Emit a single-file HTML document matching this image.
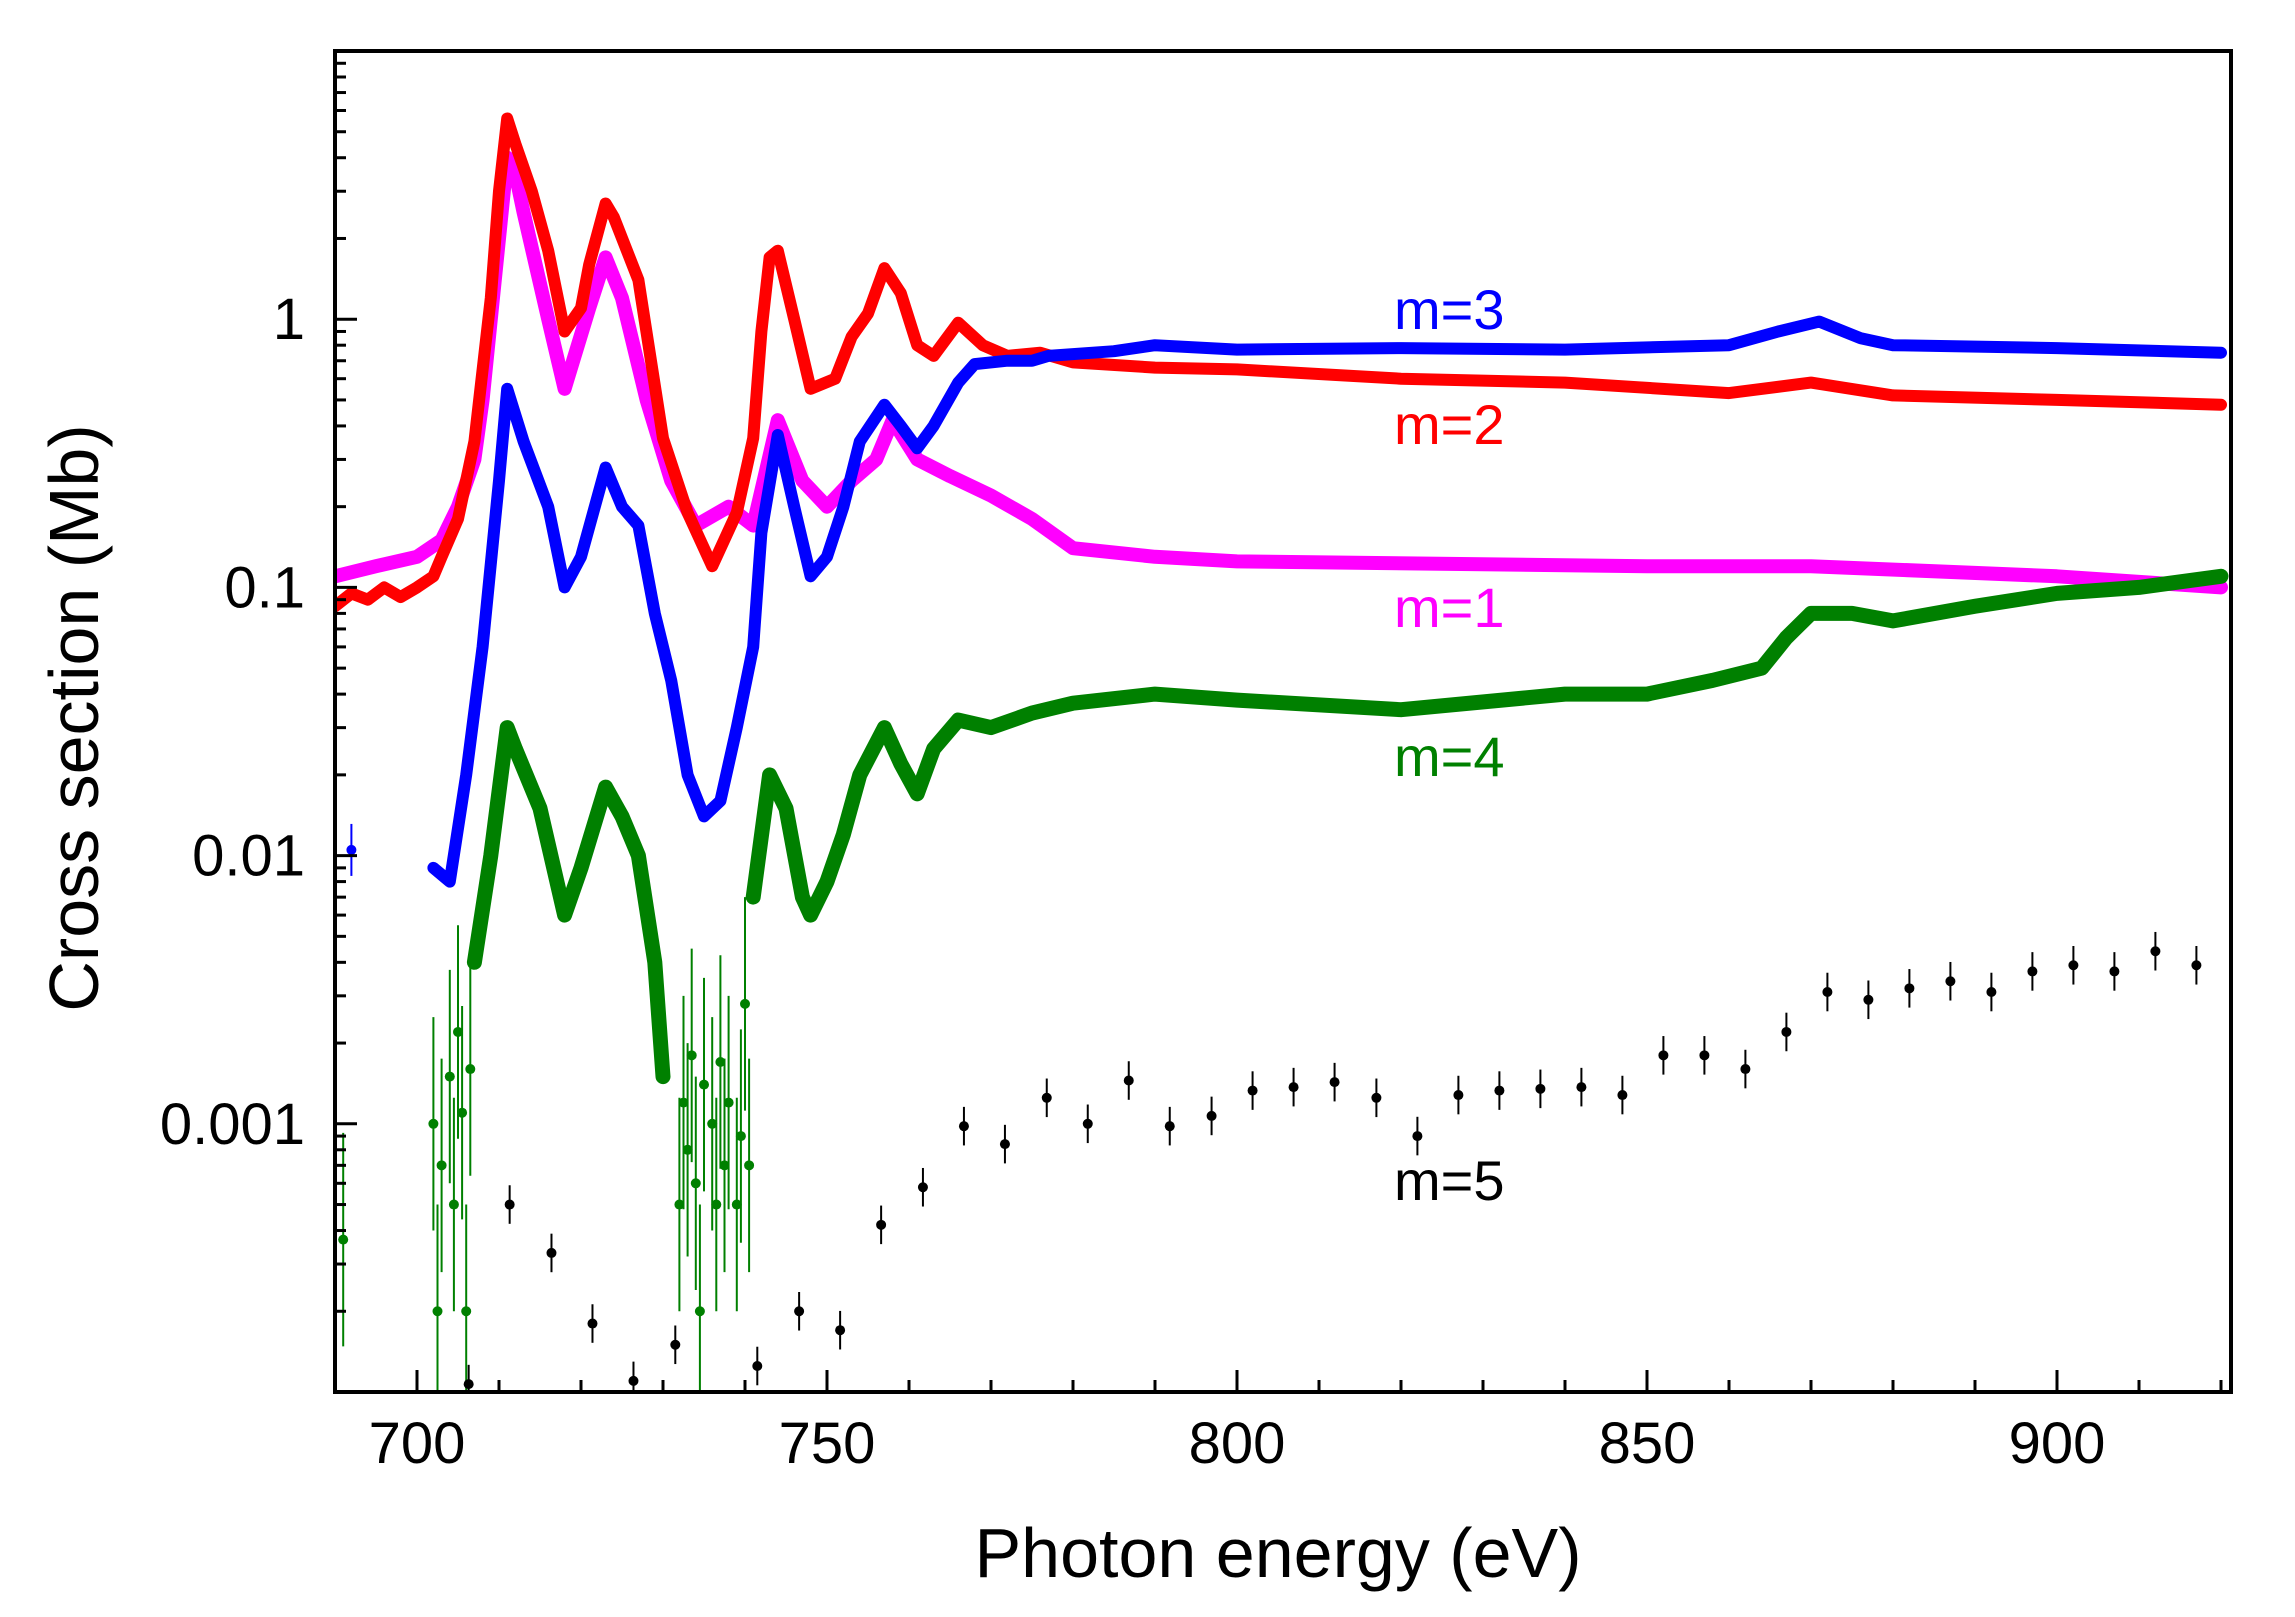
<!DOCTYPE html>
<html><head><meta charset="utf-8"><style>
html,body{margin:0;padding:0;background:#fff;}
svg{display:block;font-family:"Liberation Sans",Arial,sans-serif;}
</style></head><body>
<svg id="chart" width="2295" height="1617" viewBox="0 0 2295 1617" xmlns="http://www.w3.org/2000/svg">
<defs><clipPath id="plotclip"><rect x="335" y="51" width="1896" height="1341"/></clipPath></defs>
<rect x="0" y="0" width="2295" height="1617" fill="#fff"/>
<g id="series" clip-path="url(#plotclip)"></g>
<g id="axes"></g>
<rect x="335" y="51" width="1896" height="1341" fill="none" stroke="#000" stroke-width="4"/>
<text x="1278" y="1577" font-size="70" text-anchor="middle">Photon energy (eV)</text>
<text transform="translate(98,718) rotate(-90)" font-size="70" text-anchor="middle">Cross section (Mb)</text>
<text x="1394" y="329" font-size="56" fill="#0000ff">m=3</text>
<text x="1394" y="444" font-size="56" fill="#ff0000">m=2</text>
<text x="1394" y="627" font-size="56" fill="#ff00ff">m=1</text>
<text x="1394" y="776" font-size="56" fill="#008000">m=4</text>
<text x="1394" y="1200" font-size="56" fill="#000">m=5</text>
</svg>
<script>
const xTicks = [700, 750, 800, 850, 900];
const yTicks = [0.001, 0.01, 0.1, 1];
const yTickLabels = ["0.001", "0.01", "0.1", "1"];

const m2E = [690,692,694,696,698,700,702,703,705,707,709,710,711,712,714,716,718,720,721,723,724,727,730,733,736,739,741,742,743,744,746,748,751,753,755,757,759,761,763,766,769,772,776,780,790,800,820,840,860,870,880,900,920];
const m2V = [0.085,0.095,0.09,0.1,0.092,0.1,0.11,0.13,0.18,0.35,1.2,3,5.6,4.5,3,1.8,0.9,1.1,1.6,2.7,2.4,1.4,0.36,0.19,0.12,0.19,0.36,0.9,1.7,1.8,1,0.55,0.6,0.86,1.05,1.55,1.25,0.8,0.73,0.97,0.8,0.73,0.75,0.69,0.66,0.65,0.6,0.58,0.53,0.58,0.52,0.5,0.48];

const m1E = [690,695,700,703,705,707,708,710,711,712,713,716,718,721,723,725,728,731,734,738,741,744,747,750,753,756,758,761,765,770,775,780,790,800,850,870,900,920];
const m1V = [0.11,0.12,0.13,0.15,0.2,0.3,0.5,2,4,3.5,2.5,1,0.55,1.1,1.7,1.2,0.5,0.25,0.17,0.2,0.17,0.42,0.25,0.2,0.25,0.3,0.42,0.3,0.26,0.22,0.18,0.14,0.13,0.125,0.12,0.12,0.11,0.1];

const m3E = [702,704,706,708,710,711,713,716,718,720,723,725,727,729,731,733,735,737,739,741,742,744,746,748,750,752,754,757,759,761,763,766,768,772,775,777,785,790,800,820,840,860,866,871,876,880,900,920];
const m3V = [0.009,0.008,0.02,0.06,0.25,0.55,0.35,0.2,0.1,0.13,0.28,0.2,0.17,0.08,0.045,0.02,0.014,0.016,0.03,0.06,0.16,0.37,0.2,0.11,0.13,0.2,0.35,0.48,0.4,0.33,0.4,0.58,0.68,0.7,0.7,0.73,0.76,0.8,0.77,0.78,0.77,0.8,0.9,0.98,0.85,0.8,0.78,0.75];

const m4E = [707,709,711,712,715,718,720,723,725,727,729,730,741,743,745,747,748,750,752,754,757,759,761,763,766,770,775,780,790,800,820,840,850,858,864,867,870,875,880,890,900,910,920];
const m4V = [0.004,0.01,0.03,0.025,0.015,0.006,0.009,0.018,0.014,0.01,0.004,0.0015,0.007,0.02,0.015,0.007,0.006,0.008,0.012,0.02,0.03,0.022,0.017,0.025,0.032,0.03,0.034,0.037,0.04,0.038,0.035,0.04,0.04,0.045,0.05,0.065,0.08,0.08,0.075,0.085,0.095,0.1,0.11];
const m4Breaks = [730];

const m4ScatterE = [691,702,702.5,703,704,704.5,705,705.5,706,706.5,732,732.5,733,733.5,734,734.5,735,736,736.5,737,737.5,738,739,739.5,740,740.5];
const m4ScatterV = [0.00037,0.001,0.0002,0.0007,0.0015,0.0005,0.0022,0.0011,0.0002,0.0016,0.0005,0.0012,0.0008,0.0018,0.0006,0.0002,0.0014,0.001,0.0005,0.0017,0.0007,0.0012,0.0005,0.0009,0.0028,0.0007];

const m5E = [706.3,711.3,716.4,721.4,726.4,731.5,741.5,746.6,751.6,756.6,761.7,766.7,771.7,776.8,781.8,786.8,791.8,796.9,801.9,806.9,811.9,817,822,827,832,837,842,847,852,857,862,867,872,877,882,887,892,897,902,907,912,917];
const m5V = [0.000107,0.0005,0.00033,0.00018,0.00011,0.00015,0.000125,0.0002,0.00017,0.00042,0.00058,0.00098,0.00084,0.00125,0.001,0.00145,0.00098,0.00107,0.00133,0.00137,0.00143,0.00125,0.0009,0.00128,0.00133,0.00135,0.00137,0.00128,0.0018,0.0018,0.0016,0.0022,0.0031,0.0029,0.0032,0.0034,0.0031,0.0037,0.0039,0.0037,0.0044,0.0039];

const NS = "http://www.w3.org/2000/svg";
function X(e){ return 335 + (e - 690) * 8.2; }
function Y(v){ return 51 + (1 - Math.log10(v)) * 268.2; }
const gS = document.getElementById('series');
const gA = document.getElementById('axes');

function mk(tag, attrs, parent){
  const el = document.createElementNS(NS, tag);
  for (const k in attrs) el.setAttribute(k, attrs[k]);
  parent.appendChild(el);
  return el;
}

function drawLine(E, V, color, w, name, breaks){
  const br = breaks || [];
  const segs = [[]];
  E.forEach((e,i)=>{
    if (i > 0 && br.includes(E[i-1])) segs.push([]);
    segs[segs.length-1].push(X(e).toFixed(1)+','+Y(V[i]).toFixed(1));
  });
  segs.forEach(s=>{
    const pl = mk('polyline', {points: s.join(' '), fill:'none', stroke: color, 'stroke-width': w, 'stroke-linejoin':'round', 'stroke-linecap':'round'}, gS);
    
    
  });
}

function drawPoints(E, V, color, r, errFactor, name){
  const g = mk('g', {}, gS);
  
  
  E.forEach((e,i)=>{
    const x = X(e), y = Y(V[i]);
    const ln = mk('line', {x1:x, x2:x, y1:Y(V[i]*errFactor), y2:Y(V[i]/errFactor), stroke:color, 'stroke-width':2}, g);
    
    
    const c = mk('circle', {cx:x, cy:y, r:r, fill:color}, g);
    
    
  });
}

drawLine(m1E, m1V, '#ff00ff', 14, 'series-m1');
drawLine(m2E, m2V, '#ff0000', 12, 'series-m2');
drawLine(m3E, m3V, '#0000ff', 12, 'series-m3');
drawPoints([692], [0.0105], '#0000ff', 5, 1.25, 'series-m3-isolated');
drawLine(m4E, m4V, '#008000', 15, 'series-m4', m4Breaks);
drawPoints(m4ScatterE, m4ScatterV, '#008000', 5, 2.5, 'series-m4-scatter');
drawPoints(m5E, m5V, '#000000', 5, 1.18, 'series-m5');

for (let e = 690; e <= 920; e += 10){
  const major = xTicks.includes(e);
  const t = mk('line', {x1:X(e), x2:X(e), y1:1392, y2:1392 - (major?22:12), stroke:'#000', 'stroke-width':3}, gA);
  
  
}
xTicks.forEach(e=>{
  const t = mk('text', {x:X(e), y:1463, 'font-size':58, 'text-anchor':'middle'}, gA);
  
  
  t.textContent = String(e);
});
for (let d = -4; d <= 0; d++){
  for (let m = 1; m <= 9; m++){
    const v = m * Math.pow(10, d);
    if (v < 1e-4 || v > 10) continue;
    const major = (m === 1 && d >= -3);
    const t = mk('line', {x1:335, x2:335 + (major?22:11), y1:Y(v), y2:Y(v), stroke:'#000', 'stroke-width':3}, gA);
    
    
  }
}
yTicks.forEach((v,i)=>{
  const t = mk('text', {x:305, y:Y(v)+20, 'font-size':58, 'text-anchor':'end'}, gA);
  
  
  t.textContent = yTickLabels[i];
});
</script>
</body></html>
